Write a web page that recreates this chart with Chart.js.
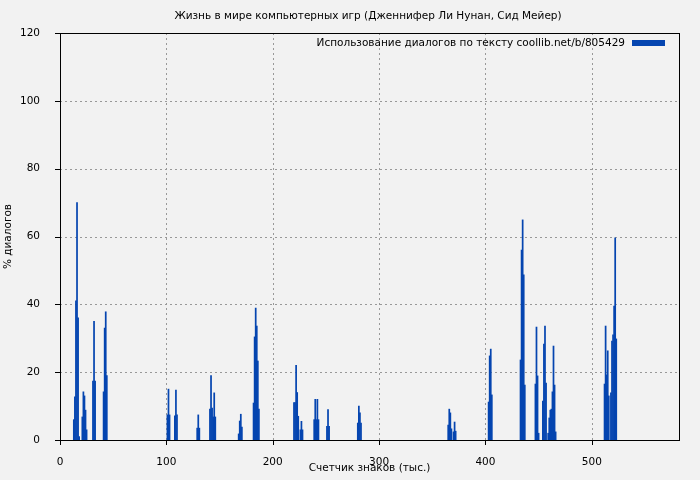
<!DOCTYPE html>
<html>
<head>
<meta charset="utf-8">
<script src="https://cdn.jsdelivr.net/npm/chart.js@4"></script>
<style>
  body { margin: 0; background: #f2f2f2; }
  #wrap { width: 700px; height: 480px; }
</style>
</head>
<body>
<div id="wrap"><canvas id="chart"></canvas></div>
<script>
const chartTitle = 'Жизнь в мире компьютерных игр (Дженнифер Ли Нунан, Сид Мейер)';
const seriesLabel = 'Использование диалогов по тексту coollib.net/b/805429';
const xTitle = 'Счетчик знаков (тыс.)';
const yTitle = '% диалогов';

// position in thousands of chars, percent of dialogue
const positions = [
  13, 14, 15, 16, 17, 18,
  21, 22, 23, 24, 25,
  31, 32, 33,
  41, 42, 43, 44,
  101, 102, 103,
  108, 109, 110,
  129, 130, 131,
  141, 142, 143, 144, 145, 146,
  168, 169, 170, 171,
  182, 183, 184, 185, 186, 187,
  220, 221, 222, 223, 224,
  226, 227, 228,
  239, 240, 241, 242, 243,
  251, 252, 253,
  280, 281, 282, 283,
  365, 366, 367, 368, 370, 371, 372,
  403, 404, 405, 406,
  433, 434, 435, 436, 437,
  447, 448, 449, 450, 454, 455, 456, 457, 459, 460, 461, 462, 463, 464, 465, 466,
  512, 513, 514, 515, 516, 518, 519, 520, 521, 522, 523
];
const percents = [
  6, 12.7, 41, 70, 36, 1,
  6.8, 14.2, 13, 8.8, 3,
  17.4, 35, 17.4,
  14.2, 33, 37.8, 19,
  7.4, 15, 7.4,
  7.1, 14.7, 7.4,
  3.5, 7.4, 3.5,
  9.1, 19, 9.4, 6.8, 13.9, 6.8,
  1.8, 5.6, 7.6, 3.8,
  10.9, 30.4, 38.9, 33.6, 23.3, 9.1,
  11, 11, 22, 14, 7,
  3, 5.5, 3,
  6, 12, 6, 12, 6,
  4, 9, 4,
  5, 10, 8, 5,
  4.4, 9.1, 8, 3.3, 2.4, 5.3, 2.6,
  11.2, 24.8, 26.8, 13.3,
  23.6, 56, 64.9, 48.7, 16.2,
  16.5, 33.3, 18.9, 2, 11.5, 28.3, 33.6, 16.8, 2, 6.5, 8.8, 9.1, 14.2, 27.7, 16.2, 2.4,
  16.5, 33.6, 19.2, 26.3, 13, 13.9, 29.2, 31, 39.5, 59.6, 29.8
];
const xTicks = [0, 100, 200, 300, 400, 500];
const yTicks = [0, 20, 40, 60, 80, 100, 120];

const barColor = '#0545b0';
const fontSize = 10.5;
const font = fontSize + 'px "DejaVu Sans", sans-serif';

// dashed grid under the bars
const grid = {
  id: 'grid',
  beforeDatasetsDraw(chart) {
    const { ctx, chartArea: a, scales } = chart;
    ctx.save();
    ctx.strokeStyle = '#999';
    ctx.lineWidth = 1;
    ctx.setLineDash([2, 3]);
    ctx.beginPath();
    yTicks.slice(1, -1).forEach(v => {
      const y = Math.round(scales.y.getPixelForValue(v)) + 0.5;
      ctx.moveTo(a.left, y); ctx.lineTo(a.right, y);
    });
    xTicks.slice(1).forEach(v => {
      const x = Math.round(scales.x.getPixelForValue(v)) + 0.5;
      ctx.moveTo(x, a.top); ctx.lineTo(x, a.bottom);
    });
    ctx.stroke();
    ctx.restore();
  }
};

const frame = {
  id: 'frame',
  afterDraw(chart) {
    const { ctx, chartArea: a, scales } = chart;
    ctx.save();
    ctx.strokeStyle = '#000';
    ctx.lineWidth = 1;
    ctx.strokeRect(a.left + 0.5, a.top + 0.5, a.right - a.left, a.bottom - a.top);
    ctx.beginPath();
    yTicks.forEach(v => {
      const y = Math.round(scales.y.getPixelForValue(v)) + 0.5;
      ctx.moveTo(a.left - 5, y); ctx.lineTo(a.left, y);
    });
    xTicks.forEach(v => {
      const x = Math.round(scales.x.getPixelForValue(v)) + 0.5;
      ctx.moveTo(x, a.bottom); ctx.lineTo(x, a.bottom + 5);
    });
    ctx.stroke();
    ctx.font = font;
    ctx.fillStyle = '#000';
    ctx.textAlign = 'center';
    ctx.textBaseline = 'middle';
    ctx.fillText(chartTitle, 368, 16);
    ctx.textAlign = 'right';
    ctx.fillText(seriesLabel, 625, 43);
    ctx.fillStyle = barColor;
    ctx.fillRect(632, 40, 33, 6);
    ctx.restore();
  }
};

new Chart(document.getElementById('chart'), {
  type: 'bar',
  data: {
    datasets: [{
      data: positions.map((x, i) => ({ x: x, y: percents[i] })),
      backgroundColor: barColor,
      barPercentage: 1,
      categoryPercentage: 1
    }]
  },
  options: {
    responsive: true,
    maintainAspectRatio: false,
    animation: false,
    layout: { padding: { top: 33, right: 21, left: 0, bottom: 0 } },
    plugins: { legend: { display: false }, tooltip: { enabled: false } },
    scales: {
      x: {
        type: 'linear', min: 0, max: 582, offset: false,
        afterFit(s) { s.height = 40; },
        afterBuildTicks(s) { s.ticks = xTicks.map(v => ({ value: v })); },
        grid: { display: false },
        border: { display: false },
        ticks: { color: '#000', font: { family: 'DejaVu Sans', size: fontSize }, padding: 8, maxRotation: 0 },
        title: { display: true, text: xTitle, color: '#000', font: { family: 'DejaVu Sans', size: fontSize }, padding: { top: 0, bottom: 5 } }
      },
      y: {
        min: 0, max: 120,
        afterFit(s) { s.width = 60; },
        afterBuildTicks(s) { s.ticks = yTicks.map(v => ({ value: v })); },
        grid: { display: false },
        border: { display: false },
        ticks: { color: '#000', font: { family: 'DejaVu Sans', size: fontSize }, padding: 12 },
        title: { display: true, text: yTitle, color: '#000', font: { family: 'DejaVu Sans', size: fontSize }, padding: { top: 2, bottom: 0 } }
      }
    }
  },
  plugins: [grid, frame]
});
</script>
</body>
</html>
